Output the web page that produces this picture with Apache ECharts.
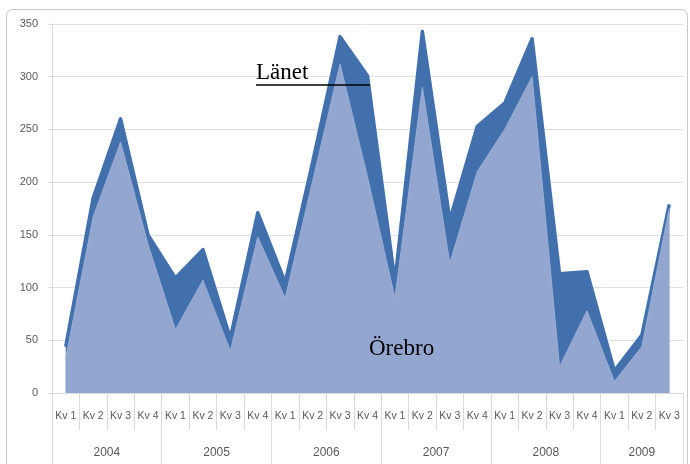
<!DOCTYPE html>
<html>
<head>
<meta charset="utf-8">
<script src="https://cdn.jsdelivr.net/npm/echarts@6/dist/echarts.min.js"></script>
<style>
    html, body { margin: 0; padding: 0; background: #fff; }
    #chart { width: 690px; height: 464px; }
</style>
</head>
<body>
<div id="chart"></div>
<script>
// kvartal per år (2009 har bara tre)
const years = ['2004', '2005', '2006', '2007', '2008', '2009'];
const quartersPerYear = [4, 4, 4, 4, 4, 3];
const quarters = [];
quartersPerYear.forEach(function (n) {
    for (let q = 1; q <= n; q++) quarters.push('Kv ' + q);
});

const lanet = [44, 185, 260, 150, 109, 136, 52, 171, 105, 219, 338, 301, 106, 343, 164, 253, 275, 336, 113, 115, 21, 55, 179];
const orebro = [33, 167, 238, 141, 60, 107, 40, 148, 90, 201, 312, 205, 90, 290, 123, 210, 250, 300, 25, 78, 11, 44, 175];

const yTicks = [0, 50, 100, 150, 200, 250, 300, 350];

// årsgränser och årsmitt på kvartalsskalan
const yearEdges = [0];
const yearMids = [];
quartersPerYear.forEach(function (n, i) {
    yearMids.push(yearEdges[i] + n / 2);
    yearEdges.push(yearEdges[i] + n);
});

let mycharts = echarts.init(document.getElementById('chart'));
let option = {
    backgroundColor: '#fff',
    animation: false,
    grid: {
        left: 52,
        right: 7,
        top: 24,
        bottom: 71
    },
    xAxis: [
        {
            type: 'category',
            data: quarters,
            boundaryGap: true,
            axisLine: { show: true, lineStyle: { color: '#d9d9d9' } },
            axisTick: {
                show: true,
                interval: 0,
                length: 37,
                lineStyle: { color: '#d9d9d9' }
            },
            axisLabel: {
                interval: 0,
                margin: 18,
                color: '#595959',
                fontSize: 10.5,
                fontFamily: 'Liberation Sans'
            }
        },
        {
            type: 'value',
            position: 'bottom',
            min: 0,
            max: yearEdges[yearEdges.length - 1],
            axisLine: { show: false },
            splitLine: { show: false },
            axisTick: {
                show: true,
                customValues: yearEdges,
                length: 72,
                lineStyle: { color: '#d9d9d9' }
            },
            axisLabel: {
                customValues: yearMids,
                margin: 54,
                color: '#595959',
                fontSize: 12,
                fontFamily: 'Liberation Sans',
                formatter: function (v) {
                    return years[yearMids.indexOf(v)] || '';
                }
            }
        }
    ],
    yAxis: {
        type: 'value',
        min: yTicks[0],
        max: yTicks[yTicks.length - 1],
        interval: 50,
        axisLine: { show: true, lineStyle: { color: '#d9d9d9' } },
        axisTick: { show: true, length: 4, lineStyle: { color: '#d9d9d9' } },
        splitLine: { show: true, lineStyle: { color: '#e0e0e0' } },
        axisLabel: {
            margin: 14,
            color: '#595959',
            fontSize: 11,
            fontFamily: 'Liberation Sans'
        }
    },
    series: [
        {
            name: 'Länet',
            type: 'line',
            data: lanet,
            symbol: 'none',
            lineStyle: { color: '#4270ad', width: 3.5, join: 'round' },
            areaStyle: { color: '#4270ad', opacity: 1 },
            z: 2
        },
        {
            name: 'Örebro',
            type: 'line',
            data: orebro,
            symbol: 'none',
            lineStyle: { color: '#9aaed5', width: 1 },
            areaStyle: { color: '#93a6cf', opacity: 1 },
            z: 3
        }
    ],
    graphic: [
        {
            type: 'rect',
            shape: { x: 6.5, y: 9.5, width: 681, height: 470, r: 6 },
            style: { fill: 'none', stroke: '#c8c8c8', lineWidth: 1 },
            z: 0
        },
        {
            type: 'text',
            left: 256,
            top: 61,
            style: {
                text: 'Länet',
                fill: '#000',
                font: '23px "Liberation Serif"'
            },
            z: 10
        },
        {
            type: 'line',
            shape: { x1: 256, y1: 85, x2: 370, y2: 85 },
            style: { stroke: '#000', lineWidth: 1.5 },
            z: 10
        },
        {
            type: 'text',
            left: 369,
            top: 337,
            style: {
                text: 'Örebro',
                fill: '#000',
                font: '23px "Liberation Serif"'
            },
            z: 10
        }
    ]
};
mycharts.setOption(option);
window.addEventListener('resize', function () {
    mycharts.resize();
});
</script>
</body>
</html>
